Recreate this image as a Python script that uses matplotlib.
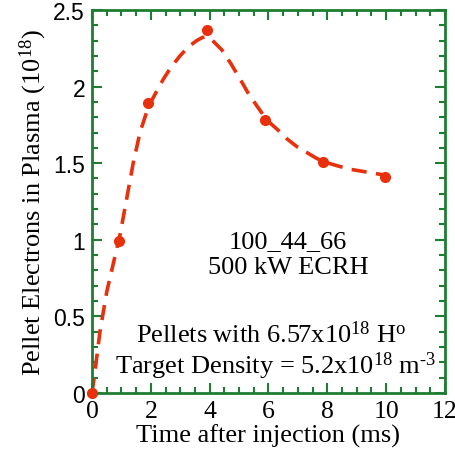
import matplotlib
matplotlib.use("Agg")
import matplotlib.pyplot as plt
from matplotlib.ticker import MultipleLocator

# measured pellet electrons (1e18) vs time after injection (ms)
t_meas = [0.0, 0.92, 1.9, 3.9, 5.88, 7.86, 9.97]
n_meas = [0.0, 0.99, 1.89, 2.37, 1.78, 1.51, 1.41]

# dashed fit curve
t_fit = [0.0, 0.1, 0.27, 0.5, 0.73, 0.95, 1.18, 1.4, 1.63, 1.92, 2.2, 2.43, 2.7,
         2.99, 3.28, 3.56, 3.75, 3.9, 4.1, 4.41, 4.72, 5.03, 5.3, 5.6, 5.95, 6.3,
         6.62, 6.95, 7.3, 7.6, 7.86, 8.3, 8.78, 9.4, 10.02]
n_fit = [0.0, 0.14, 0.40, 0.66, 0.85, 1.03, 1.27, 1.50, 1.70, 1.87, 1.97, 2.05,
         2.13, 2.20, 2.26, 2.30, 2.32, 2.325, 2.30, 2.24, 2.15, 2.05, 1.96, 1.875,
         1.78, 1.72, 1.66, 1.61, 1.57, 1.535, 1.51, 1.485, 1.46, 1.44, 1.42]

red = "#e8300c"
green = "#1e7d32"

plt.rcParams["font.family"] = "Liberation Serif"
plt.rcParams["mathtext.fontset"] = "custom"
plt.rcParams["mathtext.rm"] = "Liberation Serif"
plt.rcParams["mathtext.it"] = "Liberation Serif:italic"

fig = plt.figure(figsize=(4.56, 4.56), dpi=100)
ax = fig.add_axes([0.2018, 0.136, 0.774, 0.840])

ax.plot(t_fit, n_fit, "--", color=red, lw=2.6, dashes=(4.2, 2.6))
ax.plot(t_meas, n_meas, "o", color=red, ms=7, clip_on=False, zorder=5)

ax.set_xlim(0, 12)
ax.set_ylim(0, 2.5)
ax.xaxis.set_major_locator(MultipleLocator(2))
ax.xaxis.set_minor_locator(MultipleLocator(0.5))
ax.yaxis.set_major_locator(MultipleLocator(0.5))
ax.yaxis.set_minor_locator(MultipleLocator(0.1))
ax.set_yticks([0, 0.5, 1, 1.5, 2, 2.5])
ax.set_yticklabels(["0", "0.5", "1", "1.5", "2", "2.5"], family="Liberation Sans", fontsize=16.5)
ax.set_xticks([0, 2, 4, 6, 8, 10, 12])
ax.set_xticklabels(["0", "2", "4", "6", "8", "10", "12"], fontsize=18.5)

for s in ax.spines.values():
    s.set_color(green)
    s.set_linewidth(2)
ax.tick_params(which="both", direction="in", top=True, right=True, color=green, width=1.5)
ax.tick_params(which="major", length=7, pad=5)
ax.tick_params(which="minor", length=4)

ax.set_xlabel("Time after injection (ms)", fontsize=19, labelpad=1)
ax.set_ylabel(r"Pellet Electrons in Plasma (10$^{18}$)", fontsize=19, labelpad=3)

ax.text(6.67, 0.99, "100_44_66", ha="center", va="center", fontsize=19)
ax.text(6.67, 0.82, "500 kW ECRH", ha="center", va="center", fontsize=19)
ax.text(6.1, 0.385, r"Pellets with 6.57x10$^{18}$ H$^{\mathrm{o}}$", ha="center", va="center", fontsize=19)
ax.text(6.25, 0.18, r"Target Density = 5.2x10$^{18}$ m$^{\text{-3}}$", ha="center", va="center", fontsize=19)

fig.savefig("out.png", dpi=100)
